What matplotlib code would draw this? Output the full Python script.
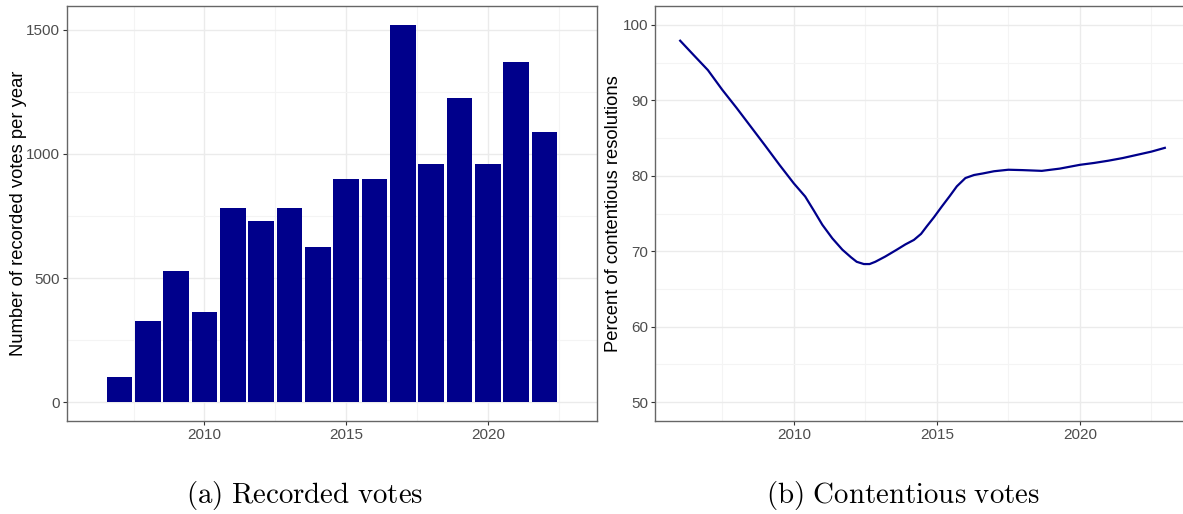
import matplotlib
matplotlib.use("Agg")
import matplotlib.pyplot as plt

plt.rcParams['font.family'] = ['Liberation Sans', 'DejaVu Sans']
plt.rcParams['mathtext.fontset'] = 'cm'

# recorded votes per year (left panel)
vote_years = [2007, 2008, 2009, 2010, 2011, 2012, 2013, 2014,
              2015, 2016, 2017, 2018, 2019, 2020, 2021, 2022]
vote_counts = [100, 326, 528, 363, 782, 730, 782, 625,
               899, 899, 1520, 960, 1226, 960, 1371, 1089]

# smoothed share of contentious resolutions (right panel)
cont_years = [2006.03, 2006.5, 2007.0, 2007.5, 2008.0, 2008.45, 2009.0, 2009.5,
              2010.0, 2010.4, 2010.7, 2011.0, 2011.35, 2011.7, 2012.0, 2012.2,
              2012.45, 2012.65, 2012.85, 2013.2, 2013.6, 2013.9, 2014.2, 2014.45,
              2014.65, 2014.9, 2015.17, 2015.45, 2015.7, 2016.0, 2016.3, 2016.6,
              2017.0, 2017.5, 2018.0, 2018.67, 2019.3, 2020.0, 2020.5, 2021.0,
              2021.5, 2022.03, 2022.5, 2022.97]
cont_pct = [97.9, 96.0, 94.0, 91.4, 89.0, 86.75, 84.0, 81.45,
            79.0, 77.25, 75.4, 73.5, 71.7, 70.2, 69.2, 68.6,
            68.3, 68.3, 68.6, 69.3, 70.2, 70.9, 71.5, 72.3,
            73.3, 74.5, 75.9, 77.3, 78.6, 79.7, 80.1, 80.3,
            80.6, 80.8, 80.75, 80.65, 80.95, 81.45, 81.7, 82.0,
            82.35, 82.8, 83.2, 83.7]

caption_a = r'$\mathrm{(a)\ Recorded\ votes}$'
caption_b = r'$\mathrm{(b)\ Contentious\ votes}$'

navy = '#00008B'
grid_major = '#EBEBEB'
grid_minor = '#F4F4F4'
border = '#333333'
tick_col = '#4D4D4D'


def style_axes(ax, xminor, yminor):
    ax.set_xticks([2010, 2015, 2020])
    ax.set_xticks(xminor, minor=True)
    ax.set_yticks(yminor, minor=True)
    ax.grid(True, which='major', color=grid_major, lw=1.0, zorder=0)
    ax.grid(True, which='minor', color=grid_minor, lw=0.8, zorder=0)
    ax.set_axisbelow(True)
    for s in ax.spines.values():
        s.set_color('#666666')
        s.set_linewidth(1.0)
    ax.tick_params(which='major', length=3, width=0.8, color=border,
                   labelsize=11, labelcolor=tick_col, pad=2)
    ax.tick_params(which='minor', length=0)


fig = plt.figure(figsize=(11.83, 5.14), dpi=100)

ax1 = fig.add_axes([67 / 1183, 1 - 421 / 514, 530 / 1183, 415 / 514])
ax1.bar(vote_years, vote_counts, width=0.9, color=navy, zorder=2)
ax1.set_xlim(2005.15, 2023.85)
ax1.set_ylim(-76, 1596)
ax1.set_yticks([0, 500, 1000, 1500])
style_axes(ax1, [2007.5, 2012.5, 2017.5, 2022.5], [250, 750, 1250])
ax1.set_ylabel('Number of recorded votes per year', fontsize=13.2)
ax1.yaxis.set_label_coords(-0.0755, 0.5)

ax2 = fig.add_axes([655 / 1183, 1 - 421 / 514, 535 / 1183, 415 / 514])
ax2.plot(cont_years, cont_pct, color=navy, lw=1.6, zorder=3)
ax2.set_xlim(2005.15, 2023.85)
ax2.set_ylim(47.5, 102.5)
ax2.set_yticks([50, 60, 70, 80, 90, 100])
style_axes(ax2, [2007.5, 2012.5, 2017.5, 2022.5], [55, 65, 75, 85, 95])
ax2.set_ylabel('Percent of contentious resolutions', fontsize=13.2)
ax2.yaxis.set_label_coords(-0.0617, 0.5)

fig.text(305 / 1183, 1 - 495 / 514, caption_a, fontsize=20.8, ha='center', va='center')
fig.text(903 / 1183, 1 - 495 / 514, caption_b, fontsize=20.8, ha='center', va='center')

fig.savefig('out.png', dpi=100)
